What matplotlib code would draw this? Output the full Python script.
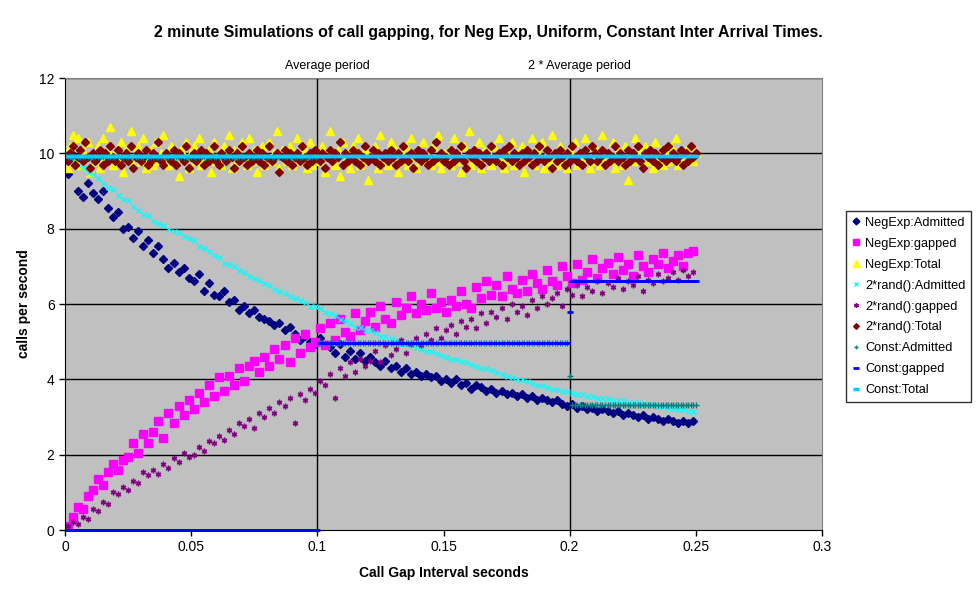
import numpy as np
import matplotlib.pyplot as plt

plt.rcParams['font.family'] = ['Liberation Sans', 'DejaVu Sans']

# call gap intervals (seconds)
x_sim = np.round(np.arange(125) * 0.002 + 0.001, 3)
x_fine = np.round(np.arange(1, 251) * 0.001, 3)

negexp_admitted = [
    9.45, 9.95, 9.0, 8.85, 9.2, 8.95, 8.8, 9.0, 8.55, 8.3,
    8.45, 8.0, 8.05, 7.75, 7.95, 7.55, 7.7, 7.35, 7.55, 7.2,
    6.95, 7.1, 6.85, 6.95, 6.7, 6.6, 6.8, 6.35, 6.55, 6.25,
    6.2, 6.35, 6.05, 6.1, 5.85, 5.95, 5.75, 5.85, 5.65, 5.6,
    5.55, 5.45, 5.5, 5.3, 5.4, 5.2, 5.05, 5.15, 5.0, 4.95,
    5.1, 4.9, 4.85, 4.7, 4.95, 4.6, 4.75, 4.55, 4.7, 4.5,
    4.6, 4.45, 4.35, 4.5, 4.3, 4.35, 4.2, 4.3, 4.15, 4.2,
    4.1, 4.15, 4.05, 4.1, 3.95, 4.0, 3.9, 4.0, 3.85, 3.9,
    3.75, 3.85, 3.8, 3.7, 3.75, 3.65, 3.7, 3.6, 3.65, 3.55,
    3.6, 3.5, 3.55, 3.45, 3.5, 3.45, 3.4, 3.45, 3.35, 3.3,
    3.35, 3.25, 3.3, 3.2, 3.25, 3.15, 3.2, 3.15, 3.1, 3.15,
    3.05, 3.1, 3.05, 3.0, 3.05, 2.95, 3.0, 2.95, 2.9, 2.95,
    2.9, 2.85, 2.9, 2.85, 2.9]

negexp_gapped = [
    0.1, 0.35, 0.6, 0.55, 0.9, 1.05, 1.35, 1.2, 1.55, 1.75,
    1.6, 1.85, 1.95, 2.3, 2.05, 2.55, 2.3, 2.6, 2.9, 2.45,
    3.1, 2.85, 3.3, 3.05, 3.45, 3.2, 3.65, 3.4, 3.85, 3.55,
    4.05, 3.7, 4.1, 3.85, 4.3, 3.95, 4.35, 4.5, 4.2, 4.6,
    4.35, 4.8, 4.55, 4.9, 4.45, 5.1, 4.7, 5.2, 4.85, 5.0,
    5.35, 4.9, 5.5, 5.05, 5.6, 5.25, 5.15, 5.75, 5.3, 5.55,
    5.8, 5.4, 5.95, 5.6, 5.5, 6.05, 5.7, 5.9, 6.2, 5.75,
    6.0, 5.85, 6.3, 5.9, 6.05, 5.8, 6.1, 5.95, 6.35, 6.0,
    5.9, 6.45, 6.15, 6.6, 6.25, 6.5, 6.2, 6.75, 6.4, 6.3,
    6.65, 6.35, 6.8, 6.55, 6.4, 6.9, 6.6, 6.5, 7.0, 6.75,
    6.55, 7.05, 6.65, 6.85, 7.2, 6.7, 6.95, 7.1, 6.8, 7.25,
    6.9, 7.05, 6.75, 7.3, 7.0, 6.85, 7.2, 7.05, 7.35, 6.95,
    7.15, 7.3, 7.0, 7.35, 7.4]

negexp_total = [
    9.6, 10.2, 10.5, 9.8, 10.4, 9.7, 10.1, 9.9, 10.3, 9.5,
    10.0, 9.8, 10.2, 9.6, 10.4, 9.9, 10.1, 10.7, 9.7, 10.0,
    9.8, 10.3, 9.5, 10.1, 9.9, 10.6, 9.7, 10.0, 10.2, 9.8,
    10.4, 9.6, 9.9, 10.1, 9.7, 10.3, 9.8, 10.0, 10.5, 9.9,
    9.7, 10.2, 9.8, 10.0, 9.4, 10.1, 9.9, 10.3, 9.6, 10.0,
    10.2, 9.8, 10.4, 9.7, 10.0, 9.9, 10.1, 9.5, 10.3, 9.8,
    10.0, 9.7, 10.2, 9.9, 10.5, 9.6, 10.1, 9.8, 10.0, 10.3,
    9.9, 9.7, 10.4, 9.8, 10.1, 9.5, 10.0, 10.2, 9.7, 9.9,
    10.3, 9.8, 10.0, 10.6, 9.6, 10.1, 9.9, 9.8, 10.2, 9.7,
    10.0, 10.4, 9.8, 9.9, 10.1, 9.6, 10.3, 9.7, 10.0, 9.9,
    9.8, 10.2, 9.5, 10.0, 10.6, 9.9, 9.7, 10.1, 9.4, 10.3,
    9.8, 10.0, 9.6, 10.2, 9.9, 10.4, 9.7, 9.8, 10.1, 9.3,
    10.0, 9.9, 10.2, 9.6, 10.5, 9.8, 10.0, 9.7, 10.3, 9.9,
    10.1, 9.5, 9.8, 10.0, 10.2, 9.7, 10.4, 9.9, 9.6, 10.1,
    9.8, 10.3, 9.9, 10.0, 9.7, 10.2, 9.8, 10.5, 9.6, 10.0,
    9.9, 10.1, 9.7, 10.4, 9.8, 10.0, 9.5, 10.2, 9.9, 10.6,
    9.7, 10.0, 9.8, 10.3, 9.6, 10.1, 9.9, 10.0, 9.7, 10.2,
    9.8, 10.4, 9.9, 9.6, 10.1, 9.8, 10.3, 9.7, 10.0, 9.9,
    10.2, 9.5, 10.0, 9.8, 10.4, 9.7, 10.1, 9.9, 10.3, 9.6,
    10.0, 9.8, 10.5, 9.9, 9.7, 10.2, 9.8, 10.0, 9.6, 10.1,
    9.9, 10.3, 9.7, 10.0, 9.8, 10.4, 9.9, 9.6, 10.2, 9.8,
    10.1, 9.7, 10.5, 9.9, 10.0, 9.8, 10.3, 9.6, 10.1, 9.9,
    9.7, 10.2, 9.3, 10.0, 9.8, 10.4, 9.9, 10.1, 9.7, 10.2,
    9.8, 10.0, 9.6, 10.3, 9.9, 10.1, 9.7, 10.0, 9.8, 10.2,
    9.9, 10.4, 9.7, 10.0, 9.8, 10.1, 9.9, 10.2, 9.8, 10.0]

rand_admitted = [
    9.9, 9.8, 9.7, 9.65, 9.5, 9.45, 9.35, 9.2, 9.1, 9.05,
    8.9, 8.8, 8.75, 8.6, 8.5, 8.4, 8.35, 8.2, 8.15, 8.1,
    8.0, 7.95, 7.9, 7.8, 7.75, 7.7, 7.55, 7.5, 7.4, 7.3,
    7.25, 7.1, 7.05, 7.0, 6.9, 6.85, 6.75, 6.7, 6.65, 6.55,
    6.5, 6.4, 6.35, 6.3, 6.2, 6.15, 6.1, 6.05, 5.95, 5.95,
    5.9, 5.8, 5.75, 5.7, 5.6, 5.55, 5.5, 5.4, 5.4, 5.3,
    5.3, 5.25, 5.15, 5.15, 5.1, 5.05, 4.95, 4.95, 4.9, 4.85,
    4.8, 4.75, 4.75, 4.7, 4.65, 4.6, 4.55, 4.55, 4.5, 4.45,
    4.4, 4.35, 4.3, 4.3, 4.25, 4.2, 4.15, 4.1, 4.05, 4.0,
    4.0, 3.95, 3.9, 3.85, 3.85, 3.8, 3.75, 3.75, 3.7, 3.7,
    3.65, 3.6, 3.6, 3.55, 3.55, 3.5, 3.5, 3.5, 3.45, 3.45,
    3.45, 3.4, 3.4, 3.4, 3.35, 3.35, 3.35, 3.3, 3.3, 3.25,
    3.25, 3.2, 3.2, 3.15, 3.15]

rand_gapped = [
    0.1, 0.2, 0.15, 0.35, 0.3, 0.55, 0.5, 0.75, 0.7, 1.0,
    0.95, 1.15, 1.05, 1.3, 1.25, 1.55, 1.45, 1.6, 1.5, 1.75,
    1.65, 1.9, 1.8, 2.05, 1.95, 2.0, 2.2, 2.1, 2.35, 2.3,
    2.5, 2.4, 2.65, 2.55, 2.85, 2.75, 2.95, 2.7, 3.1, 3.0,
    3.25, 3.1, 3.4, 3.3, 3.5, 2.85, 3.6, 3.45, 3.75, 3.65,
    3.95, 3.85, 4.15, 3.5, 4.3, 4.1, 4.45, 4.2, 4.55, 4.35,
    4.5, 4.75, 4.45, 4.9, 4.65, 4.8, 5.05, 4.7, 4.95, 5.1,
    4.9, 5.2, 5.05, 5.35, 5.1, 5.3, 5.45, 5.2, 5.55, 5.4,
    5.6, 5.35, 5.75, 5.5, 5.8, 5.65, 5.9, 5.6, 6.0, 5.8,
    5.95, 5.7, 6.1, 5.9, 6.2, 6.0, 6.15, 6.3, 5.95, 6.4,
    6.25, 6.5, 6.2, 6.45, 6.35, 6.6, 6.3, 6.55, 6.45, 6.7,
    6.4, 6.6, 6.5, 6.75, 6.35, 6.65, 6.55, 6.8, 6.6, 6.7,
    6.85, 6.65, 6.9, 6.75, 6.85]

rand_total = [
    9.8, 10.0, 10.2, 9.7, 9.9, 10.1, 9.8, 10.3, 9.9, 9.6,
    10.0, 9.8, 9.9, 10.1, 9.7, 10.0, 9.8, 10.2, 9.9, 9.8,
    10.1, 9.7, 9.9, 10.0, 9.8, 10.2, 9.6, 9.9, 10.0, 9.8,
    9.9, 10.1, 9.7, 9.8, 10.0, 9.9, 10.3, 9.8, 9.7, 10.0,
    9.9, 9.8, 10.1, 9.7, 10.0, 9.9, 9.8, 10.2, 9.6, 9.9,
    10.0, 9.8, 9.9, 10.1, 9.7, 10.0, 9.8, 9.9, 10.2, 9.8,
    9.7, 10.0, 9.9, 9.8, 10.1, 9.9, 9.6, 10.0, 9.8, 10.2,
    9.9, 9.7, 10.0, 9.8, 9.9, 10.1, 9.8, 10.0, 9.7, 9.9,
    10.2, 9.8, 9.9, 10.0, 9.5, 9.9, 10.1, 9.8, 10.0, 9.7,
    9.9, 10.0, 9.8, 10.2, 9.9, 9.7, 10.0, 9.8, 10.1, 9.9,
    9.8, 10.0, 9.6, 9.9, 10.1, 9.8, 10.0, 9.9, 10.3, 9.7,
    10.0, 9.8, 9.9, 10.1, 9.8, 10.0, 9.7, 9.9, 10.2, 9.8,
    9.9, 10.1, 9.8, 10.0, 9.7, 9.9, 10.0, 9.8, 10.1, 9.9,
    9.7, 10.0, 9.8, 10.2, 9.9, 9.8, 10.0, 9.6, 9.9, 10.1,
    9.8, 10.0, 9.9, 9.7, 10.1, 9.8, 10.3, 9.9, 10.0, 9.8,
    9.9, 9.7, 10.1, 9.8, 10.0, 9.9, 10.2, 9.8, 9.6, 10.0,
    9.9, 10.1, 9.8, 10.0, 9.7, 9.9, 10.0, 9.8, 10.2, 9.9,
    9.8, 10.0, 9.7, 10.1, 9.9, 10.2, 9.8, 10.0, 9.9, 9.7,
    10.0, 9.8, 10.1, 9.9, 9.7, 10.0, 9.8, 10.2, 9.9, 9.8,
    10.1, 9.9, 9.6, 10.0, 9.8, 10.1, 9.9, 9.7, 10.0, 9.8,
    10.2, 9.9, 9.8, 10.0, 9.7, 10.1, 9.9, 9.8, 10.2, 10.0,
    9.8, 9.9, 10.1, 9.7, 10.0, 9.8, 9.9, 10.2, 9.8, 10.0,
    9.9, 9.7, 10.1, 9.8, 10.0, 9.9, 10.2, 9.8, 9.6, 10.0,
    9.9, 10.1, 9.8, 10.0, 9.7, 9.9, 10.1, 9.8, 10.2, 9.9,
    10.0, 9.8, 9.9, 10.1, 9.7, 10.0, 9.8, 10.2, 9.9, 10.0]

# constant inter-arrival: piecewise levels (0.001 .. 0.250)
const_admitted = [9.9] * 100 + [4.97] * 99 + [4.1] + [3.32] * 50
const_gapped = [0.0] * 100 + [4.97] * 99 + [5.8] + [6.6] * 50
const_total = [9.92] * 250

ref_lines = [0.1, 0.2]
ref_labels = ['Average period', '2 * Average period']

fig = plt.figure(figsize=(9.77, 6.0), dpi=100)
ax = fig.add_axes([65 / 977, 70 / 600, 757 / 977, 452 / 600])
ax.set_facecolor('#C0C0C0')

for yv in range(2, 13, 2):
    ax.axhline(yv, color='black', lw=1, zorder=1)
for xv in ref_lines:
    ax.axvline(xv, color='black', lw=1, zorder=1)

ax.plot(x_sim, negexp_admitted, ls='none', marker='D', ms=4.3, color='#000080', label='NegExp:Admitted', zorder=2)
ax.plot(x_sim, negexp_gapped, ls='none', marker='s', ms=5.2, color='#FF00FF', label='NegExp:gapped', zorder=2)
ax.plot(x_fine, negexp_total, ls='none', marker='^', ms=6.3, color='#FFFF00', label='NegExp:Total', zorder=2)
ax.plot(x_sim, rand_admitted, ls='none', marker='x', ms=3.6, mew=1, color='#00FFFF', label='2*rand():Admitted', zorder=2)
ax.plot(x_sim, rand_gapped, ls='none', marker=(6, 2, 0), ms=4, mew=1, color='#800080', label='2*rand():gapped', zorder=2)
ax.plot(x_fine, rand_total, ls='none', marker='D', ms=3.6, color='#800000', label='2*rand():Total', zorder=2)
ax.plot(x_fine, const_admitted, ls='none', marker='+', ms=4, mew=1, color='#008080', label='Const:Admitted', zorder=2)
ax.plot(x_fine, const_gapped, ls='none', marker='_', ms=5, mew=2, color='#0000FF', label='Const:gapped',
        zorder=3, clip_on=False)
ax.plot(x_fine, const_total, ls='none', marker='_', ms=5, mew=2.5, color='#00CCFF', label='Const:Total', zorder=2)

ax.set_xlim(0, 0.3)
ax.set_ylim(0, 12)
ax.set_xticks([0, 0.05, 0.1, 0.15, 0.2, 0.25, 0.3])
ax.set_xticklabels(['0', '0.05', '0.1', '0.15', '0.2', '0.25', '0.3'])
ax.set_yticks(range(0, 13, 2))
ax.tick_params(direction='out', length=4, width=1, labelsize=10, colors='black')
for s in ['top', 'right']:
    ax.spines[s].set_color('#808080')
for s in ['left', 'bottom']:
    ax.spines[s].set_color('black')

for xv, lab in zip(ref_lines, ref_labels):
    ax.text(xv + 0.004, 12.15, lab, ha='center', va='bottom', fontsize=9)

ax.set_xlabel('Call Gap Interval seconds', fontsize=10, fontweight='bold', labelpad=8)
ax.set_ylabel('calls per second', fontsize=10, fontweight='bold', labelpad=6)
fig.text(0.5, 1 - 32 / 600, '2 minute Simulations of call gapping, for Neg Exp, Uniform, Constant Inter Arrival Times.',
         ha='center', va='center', fontsize=11.4, fontweight='bold')

leg = fig.legend(loc='upper left', bbox_to_anchor=(846 / 977, 1 - 211 / 600), fontsize=9.2,
                 frameon=True, fancybox=False, edgecolor='black', handlelength=0.7, markerscale=0.8,
                 handletextpad=0.35, labelspacing=0.7, borderpad=0.45, borderaxespad=0)
leg.get_frame().set_linewidth(1)

fig.savefig('out.png', dpi=100)
